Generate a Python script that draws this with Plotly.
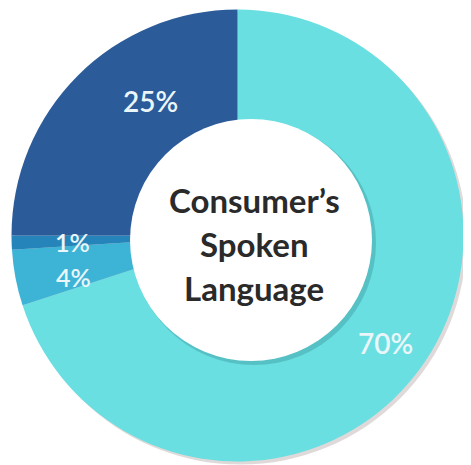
import math
import plotly.graph_objects as go

# data
labels = ["70%", "4%", "1%", "25%"]
values = [70, 4, 1, 25]
colors = ["#69dfe1", "#3db4d6", "#2585bb", "#2c5b99"]
center_lines = ["Consumer’s", "Spoken", "Language"]

OFF = 8                            # page body margin
W, H = 471 - OFF, 465 - OFF
cx, cy, R = 237.5, 235.5, 226      # outer ring, px in the screenshot
wx, wy, wr = 251, 240, 121         # white centre disc


def px(x):
    return (x - OFF) / W


def py(y):
    return 1 - (y - OFF) / H


fig = go.Figure()
fig.add_trace(go.Pie(
    labels=labels,
    values=values,
    sort=False,
    direction="clockwise",
    rotation=0,
    marker=dict(colors=colors, line=dict(width=0)),
    textinfo="none",
    hoverinfo="label",
    showlegend=False,
    domain=dict(x=[px(cx - R), px(cx + R)], y=[py(cy + R), py(cy - R)]),
))

# label positions from cumulative angles (small nudges to match the artwork)
nudge = [0, -3.2, -0.3, 12]
rfrac = [0.81, 0.75, 0.73, 0.71]
fsize = [28, 25, 25, 28]
total = sum(values)
start = 0
annots = []
for lab, v, dn, rf, fs in zip(labels, values, nudge, rfrac, fsize):
    mid = (start + v / 2) / total * 360 + dn
    start += v
    a = math.radians(mid)
    x = cx + math.sin(a) * R * rf
    y = cy - math.cos(a) * R * rf
    annots.append(dict(x=px(x), y=py(y), xref="paper", yref="paper",
                       xanchor="center", yanchor="middle",
                       text=lab, showarrow=False,
                       font=dict(family="Lato", size=fs, weight=600, color="#eaf6f9")))

for i, line in enumerate(center_lines):
    annots.append(dict(x=px(254), y=py(200 + i * 44), xref="paper", yref="paper",
                       xanchor="center", yanchor="middle",
                       text="<b>" + line + "</b>", showarrow=False,
                       font=dict(family="Lato", size=33, color="#2a2a2a")))

shapes = [
    # soft shadow under outer ring
    dict(type="circle", xref="paper", yref="paper", layer="below",
         x0=px(cx - R + 3), x1=px(cx + R + 3), y0=py(cy + R + 3), y1=py(cy - R + 3),
         fillcolor="rgba(150,130,130,0.3)", line=dict(width=0)),
    # shadow of centre disc
    dict(type="circle", xref="paper", yref="paper", layer="above",
         x0=px(wx - wr + 2), x1=px(wx + wr + 4), y0=py(wy + wr + 4), y1=py(wy - wr + 2),
         fillcolor="rgba(0,60,70,0.18)", line=dict(width=0)),
    dict(type="circle", xref="paper", yref="paper", layer="above",
         x0=px(wx - wr), x1=px(wx + wr), y0=py(wy + wr), y1=py(wy - wr),
         fillcolor="white", line=dict(width=0)),
]

fig.update_layout(
    width=W, height=H,
    margin=dict(l=0, r=0, t=0, b=0),
    paper_bgcolor="white",
    plot_bgcolor="white",
    shapes=shapes,
    annotations=annots,
)

fig.write_html("out.html")
